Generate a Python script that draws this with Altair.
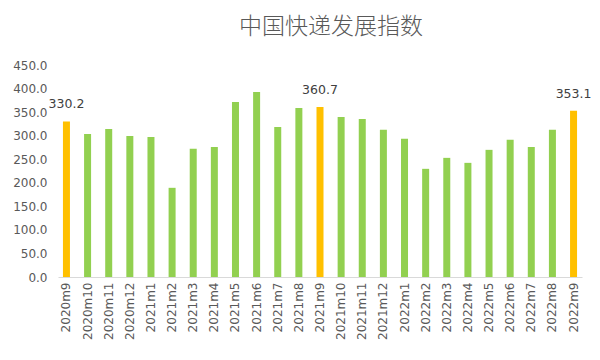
import altair as alt
import pandas as pd

months = ["2020m9", "2020m10", "2020m11", "2020m12", "2021m1", "2021m2", "2021m3",
          "2021m4", "2021m5", "2021m6", "2021m7", "2021m8", "2021m9", "2021m10",
          "2021m11", "2021m12", "2022m1", "2022m2", "2022m3", "2022m4", "2022m5",
          "2022m6", "2022m7", "2022m8", "2022m9"]
values = [330.2, 303.8, 314.4, 299.5, 297.4, 189.3, 272.0, 276.2, 371.6, 392.8,
          318.6, 358.9, 360.7, 339.8, 335.6, 312.3, 293.2, 229.6, 252.9, 242.3,
          269.9, 291.1, 276.2, 312.3, 353.1]
highlight = ["2020m9", "2021m9", "2022m9"]

df = pd.DataFrame({"month": months, "value": values})
df["hl"] = df["month"].isin(highlight)
df["label"] = [f"{v:.1f}" if m in highlight else "" for m, v in zip(months, values)]

CJK = "Noto Sans CJK SC"
NUM = "DejaVu Sans"
GREY = "#595959"

base = alt.Chart(df).encode(
    x=alt.X("month:N", sort=months, title=None,
            scale=alt.Scale(paddingInner=0.6, paddingOuter=0.2),
            axis=alt.Axis(labelAngle=270, labelFontSize=12, labelColor=GREY,
                          labelFont=NUM, ticks=False, domainColor="#D9D9D9",
                          labelPadding=5, labelOverlap=False)),
    y=alt.Y("value:Q", title=None,
            scale=alt.Scale(domain=[0, 450], nice=False),
            axis=alt.Axis(values=[0, 50, 100, 150, 200, 250, 300, 350, 400, 450],
                          format=".1f", labelFontSize=12, labelColor=GREY,
                          labelFont=NUM, ticks=False, domain=False, grid=False,
                          labelPadding=11)),
)

bars = base.mark_bar(size=7).encode(
    color=alt.Color("hl:N", scale=alt.Scale(domain=[True, False],
                                            range=["#FFC000", "#92D050"]),
                    legend=None)
)

labels = base.mark_text(dy=-10, fontSize=12.5, color="#404040", font=NUM,
                        baseline="bottom").encode(text="label:N")

chart = (bars + labels).properties(
    width=524, height=212,
    autosize=alt.AutoSizeParams(type="none"),
    padding={"left": 50, "top": 57, "right": 10, "bottom": 75},
    title=alt.TitleParams("中国快递发展指数", fontSize=23, color=GREY, font=CJK,
                          fontWeight=300, anchor="middle", dx=11, offset=20),
).configure_view(stroke=None)

chart.save("out.html", embed_options={"renderer": "svg", "actions": False})
